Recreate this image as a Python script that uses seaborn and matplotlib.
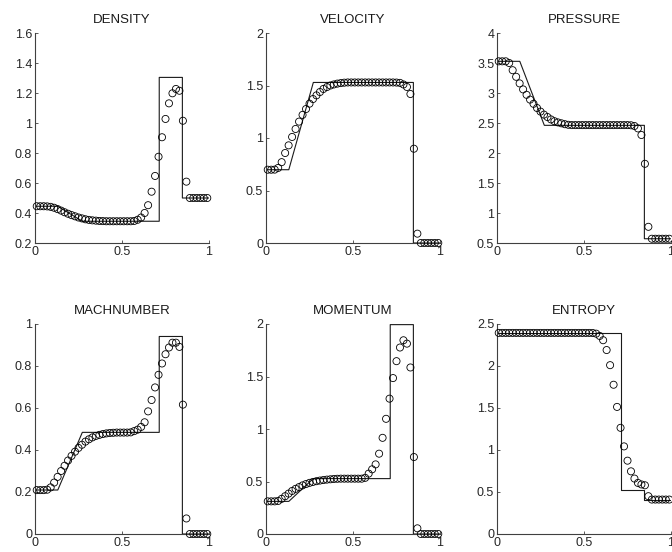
import matplotlib
matplotlib.use("Agg")
import matplotlib.pyplot as plt
from matplotlib.ticker import FuncFormatter
import seaborn as sns

# cell centres of the numerical solution
x_cells = [0.01, 0.03, 0.05, 0.07, 0.09, 0.11, 0.13, 0.15, 0.17, 0.19,
           0.21, 0.23, 0.25, 0.27, 0.29, 0.31, 0.33, 0.35, 0.37, 0.39,
           0.41, 0.43, 0.45, 0.47, 0.49, 0.51, 0.53, 0.55, 0.57, 0.59,
           0.61, 0.63, 0.65, 0.67, 0.69, 0.71, 0.73, 0.75, 0.77, 0.79,
           0.81, 0.83, 0.85, 0.87, 0.89, 0.91, 0.93, 0.95, 0.97, 0.99]

density = [0.445, 0.445, 0.445, 0.444, 0.441, 0.435, 0.426, 0.416, 0.405, 0.395,
           0.386, 0.378, 0.370, 0.364, 0.358, 0.354, 0.351, 0.349, 0.347, 0.346,
           0.345, 0.345, 0.345, 0.345, 0.345, 0.345, 0.345, 0.345, 0.347, 0.355,
           0.370, 0.400, 0.452, 0.542, 0.647, 0.775, 0.905, 1.027, 1.131, 1.198,
           1.227, 1.215, 1.015, 0.609, 0.500, 0.500, 0.500, 0.500, 0.500, 0.500]

velocity = [0.698, 0.698, 0.699, 0.715, 0.770, 0.857, 0.930, 1.010, 1.086, 1.156,
            1.220, 1.276, 1.327, 1.371, 1.406, 1.438, 1.467, 1.485, 1.500, 1.510,
            1.518, 1.523, 1.527, 1.529, 1.529, 1.529, 1.529, 1.529, 1.529, 1.529,
            1.529, 1.529, 1.529, 1.529, 1.529, 1.529, 1.529, 1.528, 1.525, 1.510,
            1.486, 1.419, 0.898, 0.089, 0.0, 0.0, 0.0, 0.0, 0.0, 0.0]

pressure = [3.528, 3.528, 3.528, 3.500, 3.380, 3.270, 3.160, 3.060, 2.970, 2.890,
            2.820, 2.750, 2.690, 2.640, 2.600, 2.560, 2.530, 2.510, 2.495, 2.480,
            2.470, 2.465, 2.465, 2.465, 2.465, 2.465, 2.465, 2.465, 2.465, 2.465,
            2.465, 2.465, 2.465, 2.465, 2.465, 2.465, 2.465, 2.465, 2.462, 2.450,
            2.410, 2.300, 1.820, 0.770, 0.571, 0.571, 0.571, 0.571, 0.571, 0.571]

machnumber = [0.209, 0.209, 0.209, 0.211, 0.222, 0.245, 0.272, 0.300, 0.325, 0.350,
              0.372, 0.392, 0.410, 0.425, 0.440, 0.451, 0.460, 0.467, 0.472, 0.476,
              0.479, 0.481, 0.482, 0.483, 0.483, 0.483, 0.483, 0.484, 0.490, 0.497,
              0.510, 0.532, 0.584, 0.638, 0.698, 0.758, 0.812, 0.856, 0.888, 0.911,
              0.911, 0.891, 0.616, 0.074, 0.0, 0.0, 0.0, 0.0, 0.0, 0.0]

momentum = [0.311, 0.311, 0.311, 0.315, 0.335, 0.360, 0.385, 0.410, 0.430, 0.447,
            0.463, 0.476, 0.487, 0.496, 0.503, 0.509, 0.514, 0.518, 0.521, 0.524,
            0.526, 0.527, 0.527, 0.527, 0.527, 0.527, 0.527, 0.527, 0.535, 0.575,
            0.616, 0.663, 0.765, 0.916, 1.097, 1.289, 1.485, 1.646, 1.776, 1.845,
            1.813, 1.586, 0.733, 0.054, 0.0, 0.0, 0.0, 0.0, 0.0, 0.0]

entropy = [2.394, 2.394, 2.394, 2.394, 2.394, 2.394, 2.394, 2.394, 2.394, 2.394,
           2.394, 2.394, 2.394, 2.394, 2.394, 2.394, 2.394, 2.394, 2.394, 2.394,
           2.394, 2.394, 2.394, 2.394, 2.394, 2.394, 2.394, 2.393, 2.385, 2.358,
           2.307, 2.190, 2.010, 1.777, 1.513, 1.264, 1.043, 0.873, 0.746, 0.660,
           0.608, 0.590, 0.580, 0.450, 0.410, 0.410, 0.410, 0.410, 0.410, 0.410]

# exact solution polylines (vertices)
ex_density_x = [0.0, 0.131, 0.272, 0.714, 0.714, 0.847, 0.847, 1.0]
ex_density_y = [0.445, 0.445, 0.345, 0.345, 1.304, 1.304, 0.5, 0.5]
ex_velocity_x = [0.0, 0.131, 0.272, 0.847, 0.847, 1.0]
ex_velocity_y = [0.698, 0.698, 1.529, 1.529, 0.0, 0.0]
ex_pressure_x = [0.0, 0.131, 0.272, 0.847, 0.847, 1.0]
ex_pressure_y = [3.528, 3.528, 2.461, 2.461, 0.571, 0.571]
ex_mach_x = [0.0, 0.131, 0.272, 0.714, 0.714, 0.847, 0.847, 1.0]
ex_mach_y = [0.2095, 0.2095, 0.484, 0.484, 0.9406, 0.9406, 0.0, 0.0]
ex_momentum_x = [0.0, 0.131, 0.272, 0.714, 0.714, 0.847, 0.847, 1.0]
ex_momentum_y = [0.3106, 0.3106, 0.5275, 0.5275, 1.994, 1.994, 0.0, 0.0]
ex_entropy_x = [0.0, 0.714, 0.714, 0.847, 0.847, 1.0]
ex_entropy_y = [2.394, 2.394, 0.529, 0.529, 0.410, 0.410]

titles = ["DENSITY", "VELOCITY", "PRESSURE", "MACHNUMBER", "MOMENTUM", "ENTROPY"]
x_ticks = [0, 0.5, 1]
y_limits = [(0.2, 1.6), (0, 2), (0.5, 4), (0, 1), (0, 2), (0, 2.5)]
y_ticks = [[0.2, 0.4, 0.6, 0.8, 1, 1.2, 1.4, 1.6],
           [0, 0.5, 1, 1.5, 2],
           [0.5, 1, 1.5, 2, 2.5, 3, 3.5, 4],
           [0, 0.2, 0.4, 0.6, 0.8, 1],
           [0, 0.5, 1, 1.5, 2],
           [0, 0.5, 1, 1.5, 2, 2.5]]

numeric = [density, velocity, pressure, machnumber, momentum, entropy]
exact = [(ex_density_x, ex_density_y), (ex_velocity_x, ex_velocity_y),
         (ex_pressure_x, ex_pressure_y), (ex_mach_x, ex_mach_y),
         (ex_momentum_x, ex_momentum_y), (ex_entropy_x, ex_entropy_y)]

sns.set_style("ticks")
plt.rcParams['font.family'] = ['Liberation Sans', 'DejaVu Sans']
axis_color = '#404040'

fig = plt.figure(figsize=(6.72, 5.52), dpi=100)
lefts = [35 / 672, 266 / 672, 497 / 672]
bottoms = [(552 - 243) / 552, (552 - 534) / 552]
w = 174 / 672
h = 210 / 552

fmt = FuncFormatter(lambda v, p: f"{v:g}")

for k in range(6):
    r, c = divmod(k, 3)
    ax = fig.add_axes([lefts[c], bottoms[r], w, h])
    ex_x, ex_y = exact[k]
    sns.lineplot(x=ex_x, y=ex_y, ax=ax, sort=False, estimator=None,
                 color='#1a1a1a', linewidth=0.8)
    sns.scatterplot(x=x_cells, y=numeric[k], ax=ax, marker='o', s=26,
                    facecolor='none', edgecolor='black', linewidth=0.6,
                    clip_on=False, zorder=3)
    ax.set_xlim(0, 1)
    ax.set_ylim(*y_limits[k])
    ax.set_xticks(x_ticks)
    ax.set_yticks(y_ticks[k])
    ax.xaxis.set_major_formatter(fmt)
    ax.yaxis.set_major_formatter(fmt)
    ax.set_title(titles[k], fontsize=9.5, pad=7, color='#1a1a1a')
    ax.set_xlabel('')
    ax.set_ylabel('')
    for side in ['top', 'right']:
        ax.spines[side].set_visible(False)
    for side in ['left', 'bottom']:
        ax.spines[side].set_color(axis_color)
        ax.spines[side].set_linewidth(0.8)
    ax.tick_params(direction='in', length=2.5, width=0.6, colors=axis_color,
                   labelsize=9, labelcolor='#262626', pad=2)
    ax.set_facecolor('white')

fig.savefig('out.png', dpi=100, facecolor='white')
